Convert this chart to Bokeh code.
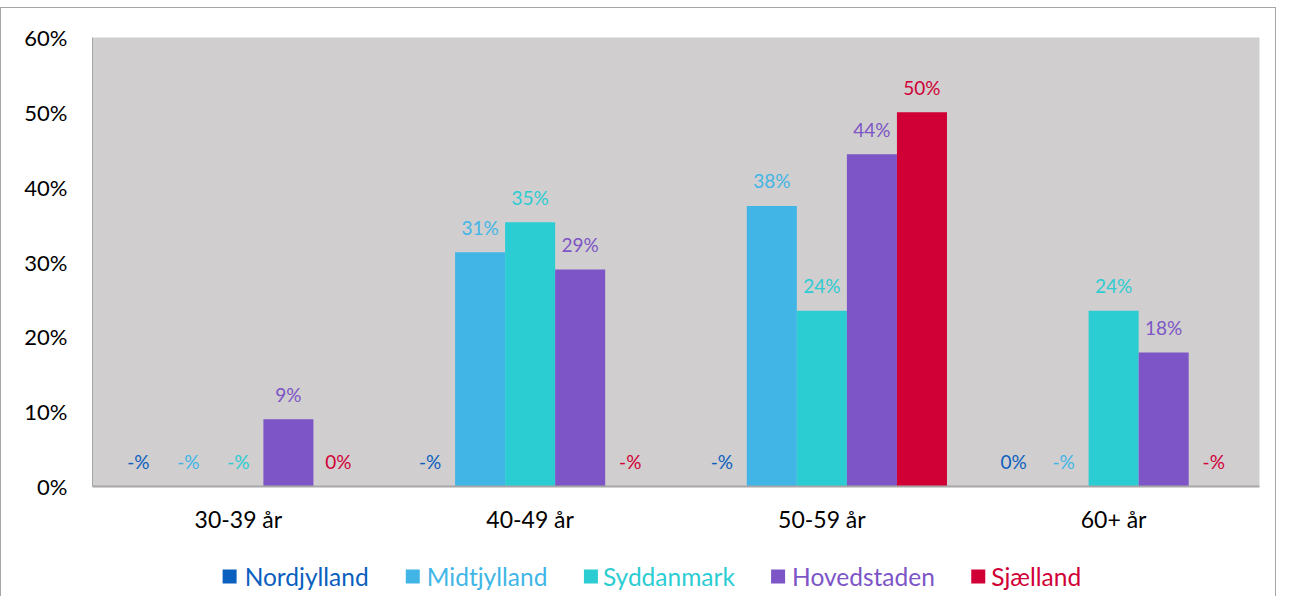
from bokeh.plotting import figure
from bokeh.layouts import column
from bokeh.models import ColumnDataSource, FactorRange, NumeralTickFormatter, FixedTicker, Range1d
from bokeh.core.properties import value
from bokeh.transform import dodge
from bokeh.embed import file_html
from bokeh.resources import INLINE

categories = ["30-39 år", "40-49 år", "50-59 år", "60+ år"]
regions = ["Nordjylland", "Midtjylland", "Syddanmark", "Hovedstaden", "Sjælland"]
colors = ["#0B5FBE", "#41B6E6", "#2CCCD3", "#7D55C7", "#D00037"]
nordjylland = [None, None, None, 0.0]
midtjylland = [None, 0.313, 0.375, None]
syddanmark = [None, 0.353, 0.235, 0.235]
hovedstaden = [0.09, 0.29, 0.444, 0.179]
sjaelland = [0.0, None, 0.50, None]
series = [nordjylland, midtjylland, syddanmark, hovedstaden, sjaelland]
y_ticks = [0, 0.1, 0.2, 0.3, 0.4, 0.5, 0.6]

FONT = "Lato"
W = 1274
p = figure(x_range=FactorRange(*categories, range_padding=0), y_range=(0, 0.6),
           width=W, height=544, output_backend="svg", toolbar_location=None,
           min_border_left=91, min_border_right=16, min_border_top=29, min_border_bottom=66)
p.background_fill_color = "#D0CECE"
p.border_fill_color = "white"
p.outline_line_color = None
p.xgrid.grid_line_color = None
p.ygrid.grid_line_color = None

bw = 50 / 291.5
for i, (name, vals, col) in enumerate(zip(regions, series, colors)):
    off = (i - 2) * bw
    yv = [v if v is not None else 0 for v in vals]
    txt = [f"{round(v*100)}%" if v is not None else "-%" for v in vals]
    src = ColumnDataSource(dict(x=categories, top=yv, txt=txt))
    p.vbar(x=dodge("x", off, range=p.x_range), top="top", width=bw, source=src,
           fill_color=col, line_color=None)
    p.text(x=dodge("x", off, range=p.x_range), y="top", text="txt", source=src,
           text_color=col, text_align="center", text_baseline="middle",
           y_offset=-25, text_font_size="19px", text_font=value(FONT))

p.yaxis.ticker = FixedTicker(ticks=y_ticks)
p.yaxis.formatter = NumeralTickFormatter(format="0%")
p.yaxis.major_tick_line_color = None
p.yaxis.minor_tick_line_color = None
p.yaxis.axis_line_color = "#A6A6A6"
p.yaxis.major_label_text_font = FONT
p.yaxis.major_label_text_font_size = "22px"
p.yaxis.major_label_text_color = "black"
p.yaxis.major_label_standoff = 19

p.xaxis.major_tick_line_color = None
p.xaxis.axis_line_color = "#A6A6A6"
p.xaxis.axis_line_width = 2
p.xaxis.major_label_text_font = FONT
p.xaxis.major_label_text_font_size = "23px"
p.xaxis.major_label_text_color = "black"
p.xaxis.major_label_standoff = 12

# legend as its own small figure below the chart; its frame is aligned with the
# chart's frame (92..1258 px), so the range is given in page pixels
sq_x = [229, 412, 590, 777, 977]
tx_x = [244, 426, 602, 791, 990]
leg = figure(width=W, height=44, x_range=Range1d(92, 1258), y_range=Range1d(0, 44),
             output_backend="svg", toolbar_location=None,
             min_border=0, min_border_left=0, min_border_right=0, min_border_top=0, min_border_bottom=0)
leg.axis.visible = False
leg.grid.visible = False
leg.outline_line_color = None
leg.background_fill_color = "white"
lsrc = ColumnDataSource(dict(sx=sq_x, tx=tx_x, y=[20] * 5, name=regions, col=colors))
leg.rect(x="sx", y="y", width=14, height=14, width_units="screen", height_units="screen",
         fill_color="col", line_color=None, source=lsrc)
leg.text(x="tx", y="y", text="name", text_color="col", text_font=value(FONT),
         text_font_size="24.5px", text_baseline="middle", text_align="left", source=lsrc)

layout = column(p, leg, spacing=0,
                styles={"margin-top": "7px",
                        "border-left": "1px solid #A6A6A6", "border-top": "1px solid #A6A6A6",
                        "border-right": "1px solid #A6A6A6"})
open("out.html", "w").write(file_html(layout, INLINE))
